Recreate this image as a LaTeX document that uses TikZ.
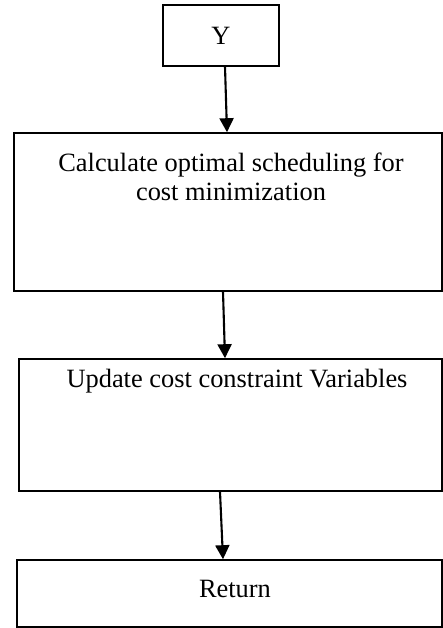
\documentclass[tikz,border=0pt]{standalone}
\usepackage{fontspec}
\setmainfont{Liberation Serif}
\usetikzlibrary{arrows.meta}
\begin{document}
\begin{tikzpicture}[x=1pt,y=-1pt,
  boxnode/.style={draw=black,line width=1.6pt,inner sep=0pt,minimum width=#1},
  txt/.style={font=\fontsize{26.4}{29}\selectfont,inner sep=0pt,align=center},
  arr/.style={line width=2.1pt,-{Triangle[length=14pt,width=14pt]}}]
\useasboundingbox (0,0) rectangle (443,628);
\node[boxnode=116pt,minimum height=61pt] (b1) at (221,35.5) {};
\node[boxnode=428pt,minimum height=158pt] (b2) at (228,212) {};
\node[boxnode=423pt,minimum height=132pt] (b3) at (230.5,425) {};
\node[boxnode=425pt,minimum height=67pt] (b4) at (229.5,593.5) {};
\node[txt] (t1) at (221,36) {Y};
\node[txt] (t2) at (231,177) {Calculate optimal scheduling for\\cost minimization};
\node[txt] (t3) at (237,381) {Update cost constraint Variables};
\node[txt] (t4) at (235,589) {Return};
\draw[arr] ([xshift=4pt]b1.south) -- ([xshift=-1pt]b2.north);
\draw[arr] ([xshift=-5pt]b2.south) -- ([xshift=-5.5pt]b3.north);
\draw[arr] ([xshift=-10.5pt]b3.south) -- ([xshift=-6.5pt]b4.north);
\end{tikzpicture}
\end{document}
